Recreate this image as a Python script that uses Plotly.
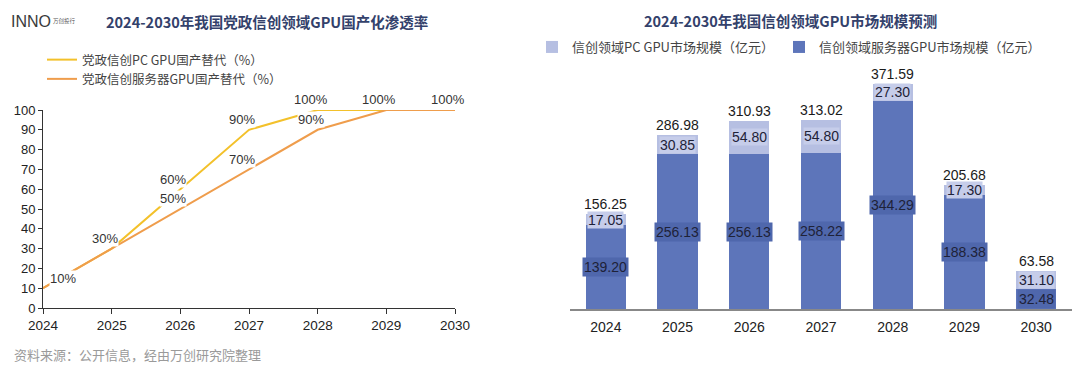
import plotly.graph_objects as go

years = [2024, 2025, 2026, 2027, 2028, 2029, 2030]
year_labels = [str(y) for y in years]

# Left chart: penetration rate (%)
pc_rate = [10, 30, 60, 90, 100, 100, 100]
server_rate = [10, 30, 50, 70, 90, 100, 100]

# Right chart: market size (亿元)
pc_market = [17.05, 30.85, 54.80, 54.80, 27.30, 17.30, 31.10]
server_market = [139.20, 256.13, 256.13, 258.22, 344.29, 188.38, 32.48]
total_market = [156.25, 286.98, 310.93, 313.02, 371.59, 205.68, 63.58]

YELLOW = "#F3C12B"
ORANGE = "#EF9D4C"
DARK_BAR = "#5D75BA"
LIGHT_BAR = "#B6BFE2"
TITLE_COLOR = "#33416B"
FONT = "Noto Sans CJK SC"
NUMFONT = "Liberation Sans"

# page has an 8px body margin; figure sized to fit the window
OFF = 8
W, H = 1080 - OFF, 367 - OFF


def px(x):
    return (x - OFF) / W


def py(y):
    return 1 - (y - OFF) / H


fig = go.Figure()

fig.add_trace(go.Scatter(
    x=years, y=pc_rate, mode="lines", name="党政信创PC GPU国产替代（%）",
    line=dict(color=YELLOW, width=2), xaxis="x", yaxis="y", legend="legend"))
fig.add_trace(go.Scatter(
    x=years, y=server_rate, mode="lines", name="党政信创服务器GPU国产替代（%）",
    line=dict(color=ORANGE, width=2), xaxis="x", yaxis="y", legend="legend"))

fig.add_trace(go.Bar(
    x=years, y=server_market, name="信创领域服务器GPU市场规模（亿元）",
    marker=dict(color=DARK_BAR, line=dict(width=0)), width=0.56,
    xaxis="x2", yaxis="y2", legend="legend2", legendrank=2))
fig.add_trace(go.Bar(
    x=years, y=pc_market, name="信创领域PC GPU市场规模（亿元）",
    marker=dict(color=LIGHT_BAR, line=dict(width=0)), width=0.56,
    xaxis="x2", yaxis="y2", legend="legend2", legendrank=1))

annotations = []


# Line chart labels (white background hides the line underneath)
def line_label(x, y, xs=-7, ys=10):
    annotations.append(dict(
        x=x, y=y, xref="x", yref="y", text=f"{y}%", showarrow=False,
        xanchor="center", yanchor="middle",
        xshift=xs, yshift=ys, bgcolor="white", borderpad=0,
        font=dict(family=NUMFONT, size=13, color="#333333")))


for i, yr in enumerate(years):
    xs = 20 if i == 0 else -7
    line_label(yr, pc_rate[i], xs)
    if server_rate[i] != pc_rate[i]:
        line_label(yr, server_rate[i], xs)

# Bar labels
for i, yr in enumerate(years):
    s = server_market[i]
    p = pc_market[i]
    annotations.append(dict(
        x=yr, y=s / 2, xref="x2", yref="y2", text=f"{s:.2f}", showarrow=False,
        xanchor="center", yanchor="middle",
        bgcolor="#4F67AC", borderpad=1,
        font=dict(family=NUMFONT, size=14, color="#1E2238")))
    annotations.append(dict(
        x=yr, y=s + p / 2, xref="x2", yref="y2", text=f"{p:.2f}", showarrow=False,
        xanchor="center", yanchor="middle",
        bgcolor="#C6CDEA", borderpad=0,
        font=dict(family=NUMFONT, size=14, color="#1E2238")))
    annotations.append(dict(
        x=yr, y=total_market[i], xref="x2", yref="y2", text=f"{total_market[i]:.2f}",
        showarrow=False, xanchor="center", yanchor="bottom", yshift=0,
        font=dict(family=NUMFONT, size=14, color="#1A1A1A")))

# Titles, logo, source
annotations += [
    dict(x=px(267), y=py(22), xref="paper", yref="paper", showarrow=False,
         xanchor="center", yanchor="middle",
         text="<b>2024-2030年我国党政信创领域GPU国产化渗透率</b>",
         font=dict(family=FONT, size=14.5, color=TITLE_COLOR)),
    dict(x=px(790), y=py(20), xref="paper", yref="paper", showarrow=False,
         xanchor="center", yanchor="middle",
         text="<b>2024-2030年我国信创领域GPU市场规模预测</b>",
         font=dict(family=FONT, size=14.5, color=TITLE_COLOR)),
    dict(x=px(9), y=py(22), xref="paper", yref="paper", showarrow=False,
         xanchor="left", yanchor="middle", text="INNO",
         font=dict(family="Liberation Sans", size=16, color="#3A3A3A")),
    dict(x=px(51), y=py(21), xref="paper", yref="paper", showarrow=False,
         xanchor="left", yanchor="middle", text="万创投行",
         font=dict(family=FONT, size=5.5, color="#555555")),
    dict(x=px(12), y=py(354), xref="paper", yref="paper", showarrow=False,
         xanchor="left", yanchor="middle", text="资料来源：公开信息，经由万创研究院整理",
         font=dict(family=FONT, size=13, color="#9A9A9A")),
]

fig.update_layout(
    width=W, height=H, autosize=False,
    margin=dict(l=0, r=0, t=0, b=0, autoexpand=False),
    paper_bgcolor="white", plot_bgcolor="white",
    barmode="stack",
    font=dict(family=FONT, color="#333333"),
    annotations=annotations,
    xaxis=dict(domain=[px(43), px(455)], anchor="y", range=[2024, 2030],
               tickvals=years, ticktext=year_labels, showgrid=False, zeroline=False,
               showline=True, linecolor="#333333", linewidth=1,
               ticks="outside", ticklen=5, tickcolor="#333333",
               tickfont=dict(family=NUMFONT, size=13.5, color="#222222")),
    yaxis=dict(domain=[py(308), py(110)], anchor="x", range=[0, 100],
               dtick=10, showgrid=False, zeroline=False,
               showline=True, linecolor="#333333", linewidth=1,
               ticks="outside", ticklen=4, tickcolor="#333333",
               tickfont=dict(family=NUMFONT, size=13, color="#222222")),
    xaxis2=dict(domain=[px(570), px(1072)], anchor="y2",
                range=[2023.5, 2030.5], tickvals=years, ticktext=year_labels,
                showgrid=False, zeroline=False,
                showline=True, linecolor="#888888", linewidth=2, ticks="",
                ticklabelstandoff=4,
                tickfont=dict(family=NUMFONT, size=14, color="#222222")),
    yaxis2=dict(domain=[py(309), py(67)], anchor="x2", range=[0, 400],
                visible=False),
    legend=dict(x=px(42), y=py(45), xanchor="left", yanchor="top",
                orientation="v", bgcolor="rgba(0,0,0,0)", itemwidth=30,
                font=dict(family=FONT, size=12.5, color="#444444"), tracegroupgap=0),
    legend2=dict(x=px(532), y=py(47), xanchor="left", yanchor="middle",
                 orientation="h", bgcolor="rgba(0,0,0,0)", traceorder="normal",
                 font=dict(family=FONT, size=13, color="#444444")),
    showlegend=True,
)

fig.write_html("out.html")
